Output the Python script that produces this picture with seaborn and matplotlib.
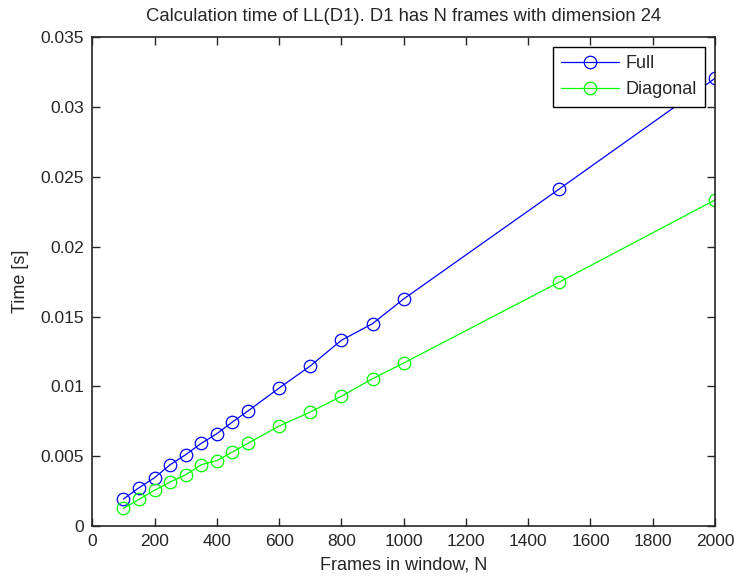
import numpy as np
import pandas as pd
import matplotlib
matplotlib.use("Agg")
import matplotlib.pyplot as plt
import seaborn as sns

frames = [100, 150, 200, 250, 300, 350, 400, 450, 500, 600, 700, 800, 900, 1000, 1500, 2000]
time_full = [0.00193, 0.00274, 0.00346, 0.00439, 0.00511, 0.00592, 0.00661, 0.00745,
             0.00824, 0.00988, 0.01146, 0.01330, 0.01449, 0.01626, 0.02414, 0.03206]
time_diag = [0.00127, 0.00191, 0.00256, 0.00315, 0.00367, 0.00439, 0.00468, 0.00530,
             0.00592, 0.00716, 0.00816, 0.00929, 0.01055, 0.01167, 0.01747, 0.02335]
series_names = ["Full", "Diagonal"]
series_colors = ["#0000ff", "#00ff00"]
xticks = [0, 200, 400, 600, 800, 1000, 1200, 1400, 1600, 1800, 2000]
yticks = [0, 0.005, 0.01, 0.015, 0.02, 0.025, 0.03, 0.035]
ytick_labels = ["0", "0.005", "0.01", "0.015", "0.02", "0.025", "0.03", "0.035"]

sns.set_style("ticks")
plt.rcParams["font.family"] = ["Liberation Sans", "DejaVu Sans"]
plt.rcParams["font.size"] = 13

df = pd.DataFrame({
    "N": frames * 2,
    "Time": time_full + time_diag,
    "Method": [series_names[0]] * len(frames) + [series_names[1]] * len(frames),
})

fig = plt.figure(figsize=(7.34, 5.78), dpi=100)
ax = fig.add_axes([92.3 / 734, 1 - 526 / 578, (715 - 92.3) / 734, (526 - 37.3) / 578])

for name, col in zip(series_names, series_colors):
    sub = df[df["Method"] == name]
    sns.lineplot(data=sub, x="N", y="Time", ax=ax, color=col, marker="o",
                 markersize=9, markerfacecolor="none", markeredgecolor=col,
                 markeredgewidth=0.9, linewidth=0.9, label=name)

ax.set_xlim(0, 2000)
ax.set_ylim(0, 0.035)
ax.set_xticks(xticks)
ax.set_xticklabels([str(t) for t in xticks])
ax.set_yticks(yticks)
ax.set_yticklabels(ytick_labels)
ax.tick_params(direction="in", length=6, width=1, top=True, right=True,
               labelsize=12.5, colors="#262626", pad=6)
for sp in ax.spines.values():
    sp.set_visible(True)
    sp.set_color("#262626")
    sp.set_linewidth(1.2)

ax.set_xlabel("Frames in window, N", fontsize=13, labelpad=5)
ax.set_ylabel("Time [s]", fontsize=13, labelpad=8)
ax.set_title("Calculation time of LL(D1). D1 has N frames with dimension 24",
             fontsize=13.3, pad=12)

leg = ax.legend(loc="upper right", fancybox=False, framealpha=1, edgecolor="black",
                fontsize=13, borderpad=0.45, handlelength=3.2, handletextpad=0.35,
                borderaxespad=0.55, labelspacing=0.5)
leg.get_frame().set_linewidth(1.0)

fig.savefig("out.png", dpi=100, facecolor="white")
